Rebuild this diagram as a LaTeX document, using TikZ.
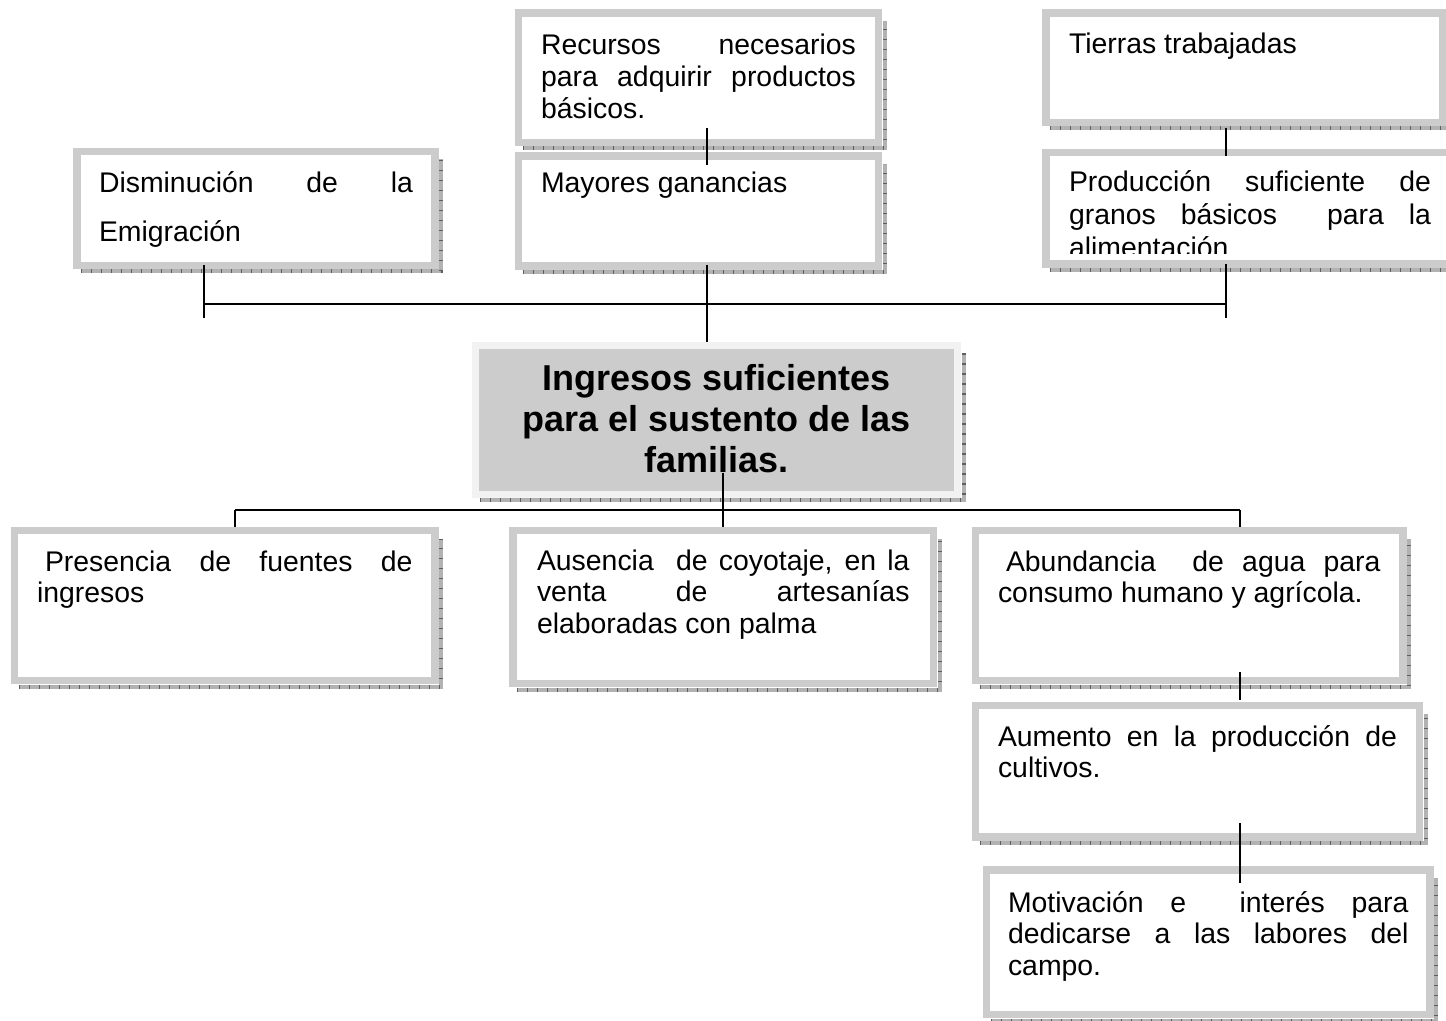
\documentclass[tikz,border=0pt]{standalone}
\usepackage{fontspec}
\setmainfont{Liberation Sans}
\usetikzlibrary{calc}
\definecolor{bordergray}{RGB}{204,204,204}
\definecolor{ringgray}{RGB}{242,242,242}
\definecolor{fillgray}{RGB}{204,204,204}
\definecolor{shadeband}{RGB}{178,178,178}
\definecolor{shadetick}{RGB}{95,95,95}
\newcommand{\jl}[1]{\makebox[\hsize][s]{\spaceskip=0pt \xspaceskip=0pt #1}\\}
\newcommand{\shadowof}[1]{%
  \draw[shband] ($(#1.south west)+(4,6)$) -- ($(#1.south east)+(6,6)$) -- ($(#1.north east)+(6,8)$);
  \draw[shtick] ($(#1.south west)+(4,6)$) -- ($(#1.south east)+(6,6)$) -- ($(#1.north east)+(6,8)$);}
\begin{document}
\begin{tikzpicture}[x=0.5pt,y=-0.5pt,
  wbox/.style={draw=bordergray,line width=3.75pt,fill=white,outer sep=0pt,
    inner ysep=0pt,anchor=north west,align=flush left,
    font=\fontsize{14.2}{15.8}\selectfont},
  cbox/.style={draw=ringgray,line width=3.5pt,fill=fillgray,outer sep=0pt,
    inner ysep=0pt,anchor=north west,align=flush center,
    font=\bfseries\fontsize{18}{20.5}\selectfont},
  conn/.style={line width=1pt,black},
  shband/.style={line width=2pt,shadeband},
  shtick/.style={line width=2pt,shadetick,dash pattern=on 0.6pt off 4.4pt}]
\useasboundingbox[fill=white] (0,0) rectangle (1446,1021);

% upper row
\node[wbox,inner xsep=11.25pt,text width=157.5pt,text height=21pt,text depth=43.75pt]
  (rec) at (518.5,13) {\jl{Recursos necesarios}\jl{para adquirir productos}básicos.};
\node[wbox,inner xsep=11.25pt,text width=157.5pt,text height=18.5pt,text depth=36.5pt]
  (may) at (518.5,156) {Mayores ganancias};
\node[wbox,inner xsep=11.5pt,text width=175.5pt,text height=20.5pt,text depth=34.25pt]
  (tie) at (1046,13) {Tierras trabajadas};
\node[wbox,inner xsep=11.5pt,text width=181pt,text height=19.75pt,text depth=36pt,
  font=\fontsize{14.2}{16.5}\selectfont]
  (pro) at (1046,152.5) {\jl{Producción suficiente de}\jl{granos básicos\ \ para la}alimentación};
\fill[white] (1049.8,254) rectangle (1470,260.2);
\node[wbox,inner xsep=11pt,text width=157pt,text height=20.75pt,text depth=36.25pt,
  font=\fontsize{14.2}{24.5}\selectfont]
  (dis) at (77,151.5) {\jl{Disminución de la}Emigración};

% central node
\node[cbox,inner xsep=10.5pt,text width=220pt,text height=22.75pt,text depth=51.75pt]
  (cen) at (475.5,345.5) {Ingresos suficientes\\para el sustento de las\\familias.};

% lower row
\node[wbox,inner xsep=11.25pt,text width=187.75pt,text height=20.25pt,text depth=54.75pt]
  (pre) at (14.5,530.5) {\jl{\hspace{4pt}Presencia de fuentes de}ingresos};
\node[wbox,inner xsep=12pt,text width=186.25pt,text height=19.75pt,text depth=56.75pt]
  (aus) at (513,530.5) {\jl{Ausencia\ \ de coyotaje, en la}\jl{venta de artesanías}elaboradas con palma};
\node[wbox,inner xsep=11.25pt,text width=191.25pt,text height=20.25pt,text depth=54.75pt]
  (abu) at (975.5,530.5) {\jl{\hspace{4pt}Abundancia\ \ de agua para}consumo humano y agrícola.};
\node[wbox,inner xsep=11.25pt,text width=199.5pt,text height=20.25pt,text depth=45.5pt]
  (aum) at (975.5,705.5) {\jl{Aumento en la producción de}cultivos.};
\node[wbox,inner xsep=10.75pt,text width=200.25pt,text height=21pt,text depth=51.25pt]
  (mot) at (986.5,870) {\jl{Motivación e\ \ interés para}\jl{dedicarse a las labores del}campo.};

% shadows
\shadowof{rec}\shadowof{may}\shadowof{tie}\shadowof{pro}\shadowof{dis}
\shadowof{cen}\shadowof{pre}\shadowof{aus}\shadowof{abu}\shadowof{aum}\shadowof{mot}

% junctions
\coordinate (jl) at (204,304);
\coordinate (jm) at (707,304);
\coordinate (jr) at (1226,304);
\coordinate (kl) at (235,510);
\coordinate (km) at (723,510);
\coordinate (kr) at (1240,510);

% connectors
\draw[conn] ($(rec.south -| jm)+(0,-14.5)$) -- ($(may.north -| jm)+(0,9)$);
\draw[conn] ($(tie.south -| jr)+(0,5.5)$) -- ($(pro.north -| jr)+(0,3.5)$);
\draw[conn] ($(may.south -| jm)+(0,-1)$) -- ($(cen.north -| jm)+(0,-3.5)$);
\draw[conn] (dis.south -| jl) -- ($(jl)+(0,14)$);
\draw[conn] (pro.south -| jr) -- ($(jr)+(0,14)$);
\draw[conn] (jl) -- (jr);
\draw[conn] ($(cen.south -| km)+(0,-21.5)$) -- ($(aus.north -| km)+(0,-3.5)$);
\draw[conn] (kl) -- (kr);
\draw[conn] (kl) -- ($(pre.north -| kl)+(0,-3.5)$);
\draw[conn] (kr) -- ($(abu.north -| kr)+(0,-3.5)$);
\draw[conn] ($(abu.south -| kr)+(0,-8.5)$) -- ($(aum.north -| kr)+(0,-5.5)$);
\draw[conn] ($(aum.south -| kr)+(0,-14)$) -- ($(mot.north -| kr)+(0,13)$);
\end{tikzpicture}
\end{document}
